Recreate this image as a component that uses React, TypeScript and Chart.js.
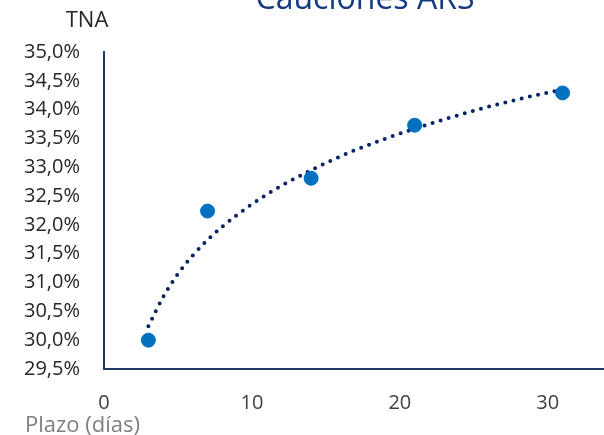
import React, { useEffect, useRef } from "react";
import { Chart, registerables } from "chart.js";

Chart.register(...registerables);

const pointX = [3, 7, 14, 21, 31];
const pointY = [30.0, 32.24, 32.81, 33.73, 34.29];

const trendX = [3, 4, 5, 6, 7, 8, 10, 12, 14, 17, 21, 25, 28, 31];
const trendY = [30.24, 30.75, 31.15, 31.47, 31.74, 31.97, 32.36, 32.68, 32.95, 33.3, 33.67, 33.98, 34.18, 34.35];

const xTicks = [0, 10, 20, 30];
const titleText = "Cauciones ARS";
const yAxisTitle = "TNA";
const xAxisTitle = "Plazo (días)";

const FONT = "'Open Sans', 'Noto Sans', sans-serif";

const labelsPlugin = {
  id: "extraLabels",
  afterDraw(chart: any) {
    const ctx = chart.ctx;
    ctx.save();
    ctx.fillStyle = "#133A80";
    ctx.font = `32px ${FONT}`;
    ctx.textAlign = "center";
    ctx.textBaseline = "alphabetic";
    ctx.fillText(titleText, 365, 9);
    ctx.fillStyle = "#262626";
    ctx.font = `22px ${FONT}`;
    ctx.textBaseline = "middle";
    ctx.fillText(yAxisTitle, 87, 21);
    ctx.fillStyle = "#7F7F7F";
    ctx.textAlign = "left";
    ctx.font = `22px ${FONT}`;
    ctx.fillText(xAxisTitle, 25, 426);
    ctx.restore();
  },
};

export default function App() {
  const ref = useRef<HTMLCanvasElement | null>(null);
  useEffect(() => {
    document.body.style.margin = "0";
    if (!ref.current) return;
    const chart = new Chart(ref.current, {
      type: "scatter",
      data: {
        datasets: [
          {
            label: "Tendencia",
            type: "line",
            data: trendX.map((x, i) => ({ x, y: trendY[i] })),
            borderColor: "#0B2461",
            borderWidth: 4,
            borderDash: [0, 8.4],
            borderCapStyle: "round",
            pointRadius: 0,
            fill: false,
            cubicInterpolationMode: "monotone",
            order: 2,
          } as any,
          {
            label: "TNA",
            data: pointX.map((x, i) => ({ x, y: pointY[i] })),
            backgroundColor: "#0070C0",
            borderColor: "#0070C0",
            pointRadius: 7,
            order: 1,
          },
        ],
      },
      options: {
        animation: false,
        responsive: false,
        devicePixelRatio: 1,
        layout: { autoPadding: false, padding: { top: 52, right: 0, left: 0, bottom: 0 } },
        plugins: { legend: { display: false }, tooltip: { enabled: false }, title: { display: false } },
        scales: {
          x: {
            type: "linear",
            min: 0,
            max: 33.8,
            afterBuildTicks: (s: any) => {
              s.ticks = xTicks.map((v) => ({ value: v }));
            },
            afterFit: (s: any) => {
              s.height = 66;
              s.paddingRight = 0;
              s.paddingLeft = 0;
            },
            grid: { display: false, drawTicks: false },
            border: { color: "#203864", width: 2 },
            ticks: {
              padding: 22,
              color: "#404040",
              font: { family: FONT, size: 20 },
              callback: (v: any) => String(v),
            },
          },
          y: {
            min: 29.5,
            max: 35,
            afterFit: (s: any) => {
              s.width = 104;
              s.paddingTop = 0;
              s.paddingBottom = 0;
            },
            grid: { display: false, drawTicks: false },
            border: { color: "#203864", width: 2 },
            ticks: {
              stepSize: 0.5,
              padding: 24,
              color: "#262626",
              font: { family: FONT, size: 20 },
              callback: (v: any) => Number(v).toFixed(1).replace(".", ",") + "%",
            },
          },
        },
      },
      plugins: [labelsPlugin],
    });
    return () => chart.destroy();
  }, []);
  return (
    <div style={{ position: "relative", width: 604, height: 435 }}>
      <canvas ref={ref} width={604} height={435} style={{ width: 604, height: 435, display: "block" }} />
    </div>
  );
}
